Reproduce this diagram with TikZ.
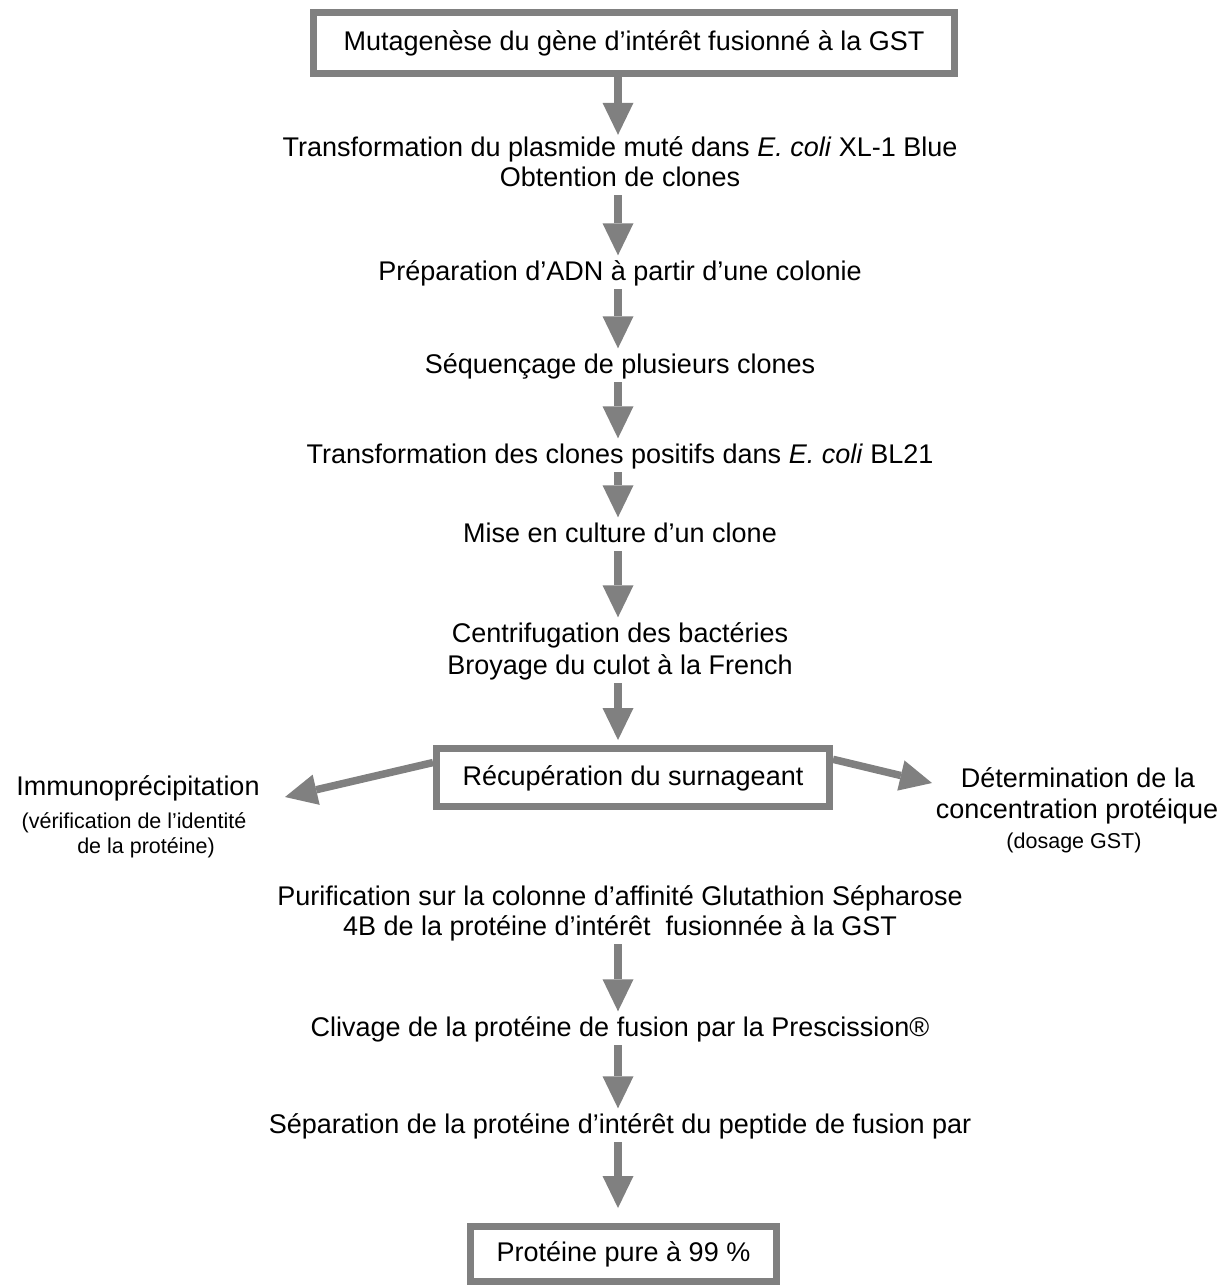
\documentclass[tikz,border=0pt]{standalone}
\usepackage{fontspec}
\setmainfont{Liberation Sans}
\usetikzlibrary{arrows.meta,calc}
\definecolor{boxgray}{RGB}{128,128,128}
\begin{document}
\begin{tikzpicture}[x=1pt,y=-1pt,
  txt/.style={inner sep=0pt, anchor=base, text height=19.5pt, text depth=7pt, font=\fontsize{27}{30}\selectfont},
  side/.style={inner sep=0pt, anchor=base, font=\fontsize{27}{30}\selectfont},
  small/.style={inner sep=0pt, anchor=base, font=\fontsize{21.5}{25}\selectfont},
  box/.style={draw=boxgray, line width=7pt, fill=white, inner sep=0pt, text height=19.5pt, text depth=4pt, font=\fontsize{27}{30}\selectfont},
  arr/.style={draw=boxgray, line width=7.5pt, -{Triangle[width=31pt,length=32pt,line width=0pt]}, shorten <=2pt, shorten >=5pt}]
\useasboundingbox (0,0) rectangle (1226,1286);
\coordinate (ax) at (618,0);
% main column
\node[box, minimum width=641pt, minimum height=61pt] (b0) at (634,43) {Mutagenèse du gène d’intérêt fusionné à la GST};
\node[txt] (t1a) at (620,156) {Transformation du plasmide muté dans \textit{E. coli} XL-1 Blue};
\node[txt] (t1b) at (620,186) {Obtention de clones};
\node[txt] (t2) at (620,280) {Préparation d’ADN à partir d’une colonie};
\node[txt] (t3) at (620,373) {Séquençage de plusieurs clones};
\node[txt] (t4) at (620,463) {Transformation des clones positifs dans \textit{E. coli} BL21};
\node[txt] (t5) at (620,542) {Mise en culture d’un clone};
\node[txt] (t6a) at (620,642) {Centrifugation des bactéries};
\node[txt] (t6b) at (620,674) {Broyage du culot à la French};
\node[box, minimum width=393pt, minimum height=58pt] (rec) at (633,777.5) {Récupération du surnageant};
\node[txt] (t7a) at (620,905) {Purification sur la colonne d’affinité Glutathion Sépharose};
\node[txt] (t7b) at (620,935) {4B de la protéine d’intérêt\ \ fusionnée à la GST};
\node[txt] (t8) at (620,1036) {Clivage de la protéine de fusion par la Prescission®};
\node[txt] (t9) at (620,1133) {Séparation de la protéine d’intérêt du peptide de fusion par};
\node[box, minimum width=306pt, minimum height=55pt] (fin) at (623.5,1254) {Protéine pure à 99 \%};
% side texts
\node[side] (imm) at (138,795) {Immunoprécipitation};
\node[small] (imm2) at (134,828) {(vérification de l’identité};
\node[small] (imm3) at (146,853) {de la protéine)};
\node[side] (det) at (1078,787) {Détermination de la};
\node[side] (det2) at (1077,818) {concentration protéique};
\node[small] (det3) at (1074,848) {(dosage GST)};
\coordinate (immtip) at (285,797);
\coordinate (dettip) at (932,783);
% arrows
\draw[arr, shorten <=0pt, shorten >=1.5pt] (b0.south -| ax) -- (t1a.north -| ax);
\draw[arr] (t1b.south -| ax) -- (t2.north -| ax);
\draw[arr] (t2.south -| ax) -- (t3.north -| ax);
\draw[arr] (t3.south -| ax) -- (t4.north -| ax);
\draw[arr] (t4.south -| ax) -- (t5.north -| ax);
\draw[arr] (t5.south -| ax) -- (t6a.north -| ax);
\draw[arr] (t6b.south -| ax) -- (rec.north -| ax);
\draw[arr] (t7b.south -| ax) -- (t8.north -| ax);
\draw[arr] (t8.south -| ax) -- (t9.north -| ax);
\draw[arr, shorten >=15pt] (t9.south -| ax) -- (fin.north -| ax);
\draw[arr, shorten <=0pt, shorten >=0pt] ($(rec.north west)!0.27!(rec.south west)$) -- (immtip);
\draw[arr, shorten <=0pt, shorten >=0pt] ($(rec.north east)!0.22!(rec.south east)$) -- (dettip);
\end{tikzpicture}
\end{document}
